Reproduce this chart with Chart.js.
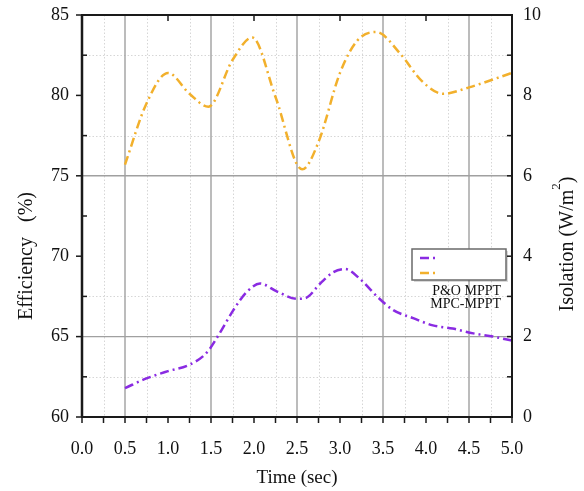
<!DOCTYPE html>
<html>
<head>
<meta charset="utf-8">
<script src="https://cdn.jsdelivr.net/npm/chart.js@4.4.1/dist/chart.umd.min.js"></script>
<style>
  html, body { margin: 0; padding: 0; background: #fff; }
  #wrap { width: 584px; height: 491px; }
</style>
</head>
<body>
<div id="wrap"><canvas id="c" width="584" height="491"></canvas></div>
<script>
// Efficiency of the two MPPT controllers over time
const seriesNames = ['P&O MPPT', 'MPC-MPPT'];

const pandoTime = [0.5, 0.75, 1.0, 1.25, 1.45, 1.6, 1.76, 1.92, 2.07, 2.27, 2.5, 2.6, 2.77, 2.92, 3.06, 3.23, 3.43, 3.62, 3.85, 4.08, 4.31, 4.55, 4.78, 5.0];
const pandoEff  = [61.8, 62.4, 62.85, 63.25, 64.0, 65.2, 66.65, 67.8, 68.3, 67.8, 67.35, 67.4, 68.3, 69.0, 69.2, 68.6, 67.5, 66.65, 66.15, 65.7, 65.5, 65.2, 65.0, 64.75];

const mpcTime = [0.5, 0.75, 1.0, 1.25, 1.47, 1.75, 1.98, 2.25, 2.56, 2.75, 3.0, 3.2, 3.42, 3.7, 3.95, 4.2, 4.5, 5.0];
const mpcEff  = [75.7, 79.5, 81.4, 80.1, 79.3, 82.2, 83.6, 79.9, 75.4, 77.1, 81.4, 83.4, 83.95, 82.6, 80.9, 80.1, 80.5, 81.4];

// axis tick labels
const timeTicks = [0, 0.5, 1, 1.5, 2, 2.5, 3, 3.5, 4, 4.5, 5];
const effTicks  = [60, 65, 70, 75, 80, 85];
const isoTicks  = [0, 2, 4, 6, 8, 10];

const SERIF = '"Liberation Serif", "Times New Roman", serif';
const COLORS = ['#8a2be2', '#f2b02c'];
const DASH = [9, 4, 2, 4];

const toPoints = (xs, ys) => xs.map((t, i) => ({ x: t, y: ys[i] }));

// grid, frame and tick marks
const framePlugin = {
  id: 'frame',
  beforeDatasetsDraw(chart) {
    const { ctx, chartArea: a, scales: { x, y } } = chart;
    ctx.save();
    ctx.strokeStyle = '#d6d6d6';
    ctx.lineWidth = 1;
    ctx.setLineDash([1.5, 2]);
    for (let t = 0.25; t < 5; t += 0.5) {
      const px = Math.round(x.getPixelForValue(t)) + 0.5;
      ctx.beginPath(); ctx.moveTo(px, a.top); ctx.lineTo(px, a.bottom); ctx.stroke();
    }
    for (const v of [82.5, 77.5, 67.5, 62.5]) {
      const py = Math.round(y.getPixelForValue(v)) + 0.5;
      ctx.beginPath(); ctx.moveTo(a.left, py); ctx.lineTo(a.right, py); ctx.stroke();
    }
    ctx.setLineDash([]);
    ctx.strokeStyle = '#a0a0a0';
    ctx.lineWidth = 1.4;
    for (let t = 0.5; t < 5; t += 1) {
      const px = x.getPixelForValue(t);
      ctx.beginPath(); ctx.moveTo(px, a.top); ctx.lineTo(px, a.bottom); ctx.stroke();
    }
    for (const v of [75, 65]) {
      const py = y.getPixelForValue(v);
      ctx.beginPath(); ctx.moveTo(a.left, py); ctx.lineTo(a.right, py); ctx.stroke();
    }
    ctx.restore();
  },
  afterDatasetsDraw(chart) {
    const { ctx, chartArea: a, scales: { x, y, y2 } } = chart;
    ctx.save();
    ctx.strokeStyle = '#1a1a1a';
    ctx.lineWidth = 1.5;
    // bottom ticks every 0.25
    for (let t = 0; t <= 5.001; t += 0.25) {
      const px = x.getPixelForValue(t);
      ctx.beginPath(); ctx.moveTo(px, a.bottom); ctx.lineTo(px, a.bottom + 6); ctx.stroke();
    }
    // top ticks at whole seconds
    for (let t = 1; t <= 4; t += 1) {
      const px = x.getPixelForValue(t);
      ctx.beginPath(); ctx.moveTo(px, a.top); ctx.lineTo(px, a.top + 6); ctx.stroke();
    }
    // left ticks
    for (let v = 60; v <= 85; v += 5) {
      const py = y.getPixelForValue(v);
      ctx.beginPath(); ctx.moveTo(a.left - 6, py); ctx.lineTo(a.left, py); ctx.stroke();
    }
    for (let v = 62.5; v < 85; v += 5) {
      const py = y.getPixelForValue(v);
      ctx.beginPath(); ctx.moveTo(a.left, py); ctx.lineTo(a.left + 5, py); ctx.stroke();
    }
    // right ticks every unit
    for (let v = 1; v < 10; v += 1) {
      const py = y2.getPixelForValue(v);
      ctx.beginPath(); ctx.moveTo(a.right - 5, py); ctx.lineTo(a.right, py); ctx.stroke();
    }
    // frame
    ctx.lineWidth = 2;
    ctx.strokeRect(a.left, a.top, a.right - a.left, a.bottom - a.top);
    ctx.lineWidth = 2.5;
    ctx.beginPath(); ctx.moveTo(a.left, a.top); ctx.lineTo(a.left, a.bottom); ctx.stroke();
    ctx.restore();
  }
};

// legend box with the names set underneath
const legendPlugin = {
  id: 'legendBox',
  afterDraw(chart) {
    const { ctx } = chart;
    const bx = 412, by = 249, bw = 94, bh = 31;
    ctx.save();
    ctx.fillStyle = 'rgba(0,0,0,0.15)';
    ctx.fillRect(bx + 2, by + 2, bw, bh);
    ctx.fillStyle = '#fff';
    ctx.fillRect(bx, by, bw, bh);
    ctx.strokeStyle = '#6a6a6a';
    ctx.lineWidth = 1.5;
    ctx.strokeRect(bx, by, bw, bh);
    chart.data.datasets.forEach((ds, i) => {
      const ly = by + 9 + i * 15;
      ctx.strokeStyle = ds.borderColor;
      ctx.lineWidth = 2.5;
      ctx.setLineDash(DASH);
      ctx.beginPath(); ctx.moveTo(bx + 8, ly); ctx.lineTo(bx + 27, ly); ctx.stroke();
    });
    ctx.setLineDash([]);
    ctx.fillStyle = '#111';
    ctx.font = '14px ' + SERIF;
    ctx.textAlign = 'right';
    ctx.textBaseline = 'middle';
    chart.data.datasets.forEach((ds, i) => {
      ctx.fillText(ds.label, 501, 291 + i * 13);
    });
    ctx.restore();
  }
};

// axis titles
const titlePlugin = {
  id: 'axisTitles',
  afterDraw(chart) {
    const { ctx, chartArea: a } = chart;
    ctx.save();
    ctx.fillStyle = '#111';
    ctx.textBaseline = 'middle';
    ctx.font = '19px ' + SERIF;
    ctx.textAlign = 'center';
    ctx.fillText('Time (sec)', (a.left + a.right) / 2, 478);

    // left title, reads bottom to top
    ctx.save();
    ctx.translate(27, 256);
    ctx.rotate(-Math.PI / 2);
    ctx.font = '20px ' + SERIF;
    ctx.fillText('Efficiency   (%)', 0, 0);
    ctx.restore();

    // right title with superscript
    ctx.save();
    ctx.translate(568, 244);
    ctx.rotate(-Math.PI / 2);
    const partA = 'Isolation (W/m', sup = '2', partB = ')';
    ctx.font = '20px ' + SERIF;
    const wA = ctx.measureText(partA).width, wB = ctx.measureText(partB).width;
    ctx.font = '13px ' + SERIF;
    const wS = ctx.measureText(sup).width;
    let cx = -(wA + wS + wB) / 2;
    ctx.textAlign = 'left';
    ctx.font = '20px ' + SERIF;
    ctx.fillText(partA, cx, 0); cx += wA;
    ctx.font = '13px ' + SERIF;
    ctx.fillText(sup, cx, -11); cx += wS;
    ctx.font = '20px ' + SERIF;
    ctx.fillText(partB, cx, 0);
    ctx.restore();
    ctx.restore();
  }
};

const tickFont = { family: SERIF, size: 18 };
const fitVertical = w => s => { s.width = w; s.paddingTop = 0; s.paddingBottom = 0; };

new Chart(document.getElementById('c'), {
  type: 'line',
  data: {
    datasets: [
      { label: seriesNames[0], data: toPoints(pandoTime, pandoEff), borderColor: COLORS[0],
        borderWidth: 2.5, borderDash: DASH, pointRadius: 0, cubicInterpolationMode: 'monotone', fill: false },
      { label: seriesNames[1], data: toPoints(mpcTime, mpcEff), borderColor: COLORS[1],
        borderWidth: 2.5, borderDash: DASH, pointRadius: 0, cubicInterpolationMode: 'monotone', fill: false }
    ]
  },
  options: {
    responsive: false,
    animation: false,
    devicePixelRatio: 1,
    layout: { padding: { top: 15, left: 0, right: 0, bottom: 0 } },
    plugins: { legend: { display: false }, tooltip: { enabled: false } },
    scales: {
      x: {
        type: 'linear', min: 0, max: 5,
        afterBuildTicks: s => { s.ticks = timeTicks.map(v => ({ value: v })); },
        afterFit: s => { s.height = 74; s.paddingLeft = 0; s.paddingRight = 0; },
        grid: { display: false, drawTicks: false }, border: { display: false },
        ticks: { autoSkip: false, maxRotation: 0, padding: 21, color: '#111', font: tickFont,
                 callback: v => Number(v).toFixed(1) }
      },
      y: {
        position: 'left', min: 60, max: 85,
        afterBuildTicks: s => { s.ticks = effTicks.map(v => ({ value: v })); },
        afterFit: fitVertical(82),
        grid: { display: false, drawTicks: false }, border: { display: false },
        ticks: { padding: 13, color: '#111', font: tickFont }
      },
      y2: {
        position: 'right', min: 0, max: 10,
        afterBuildTicks: s => { s.ticks = isoTicks.map(v => ({ value: v })); },
        afterFit: fitVertical(72),
        grid: { display: false, drawTicks: false }, border: { display: false },
        ticks: { padding: 11, color: '#111', font: tickFont }
      }
    }
  },
  plugins: [framePlugin, legendPlugin, titlePlugin]
});
</script>
</body>
</html>
